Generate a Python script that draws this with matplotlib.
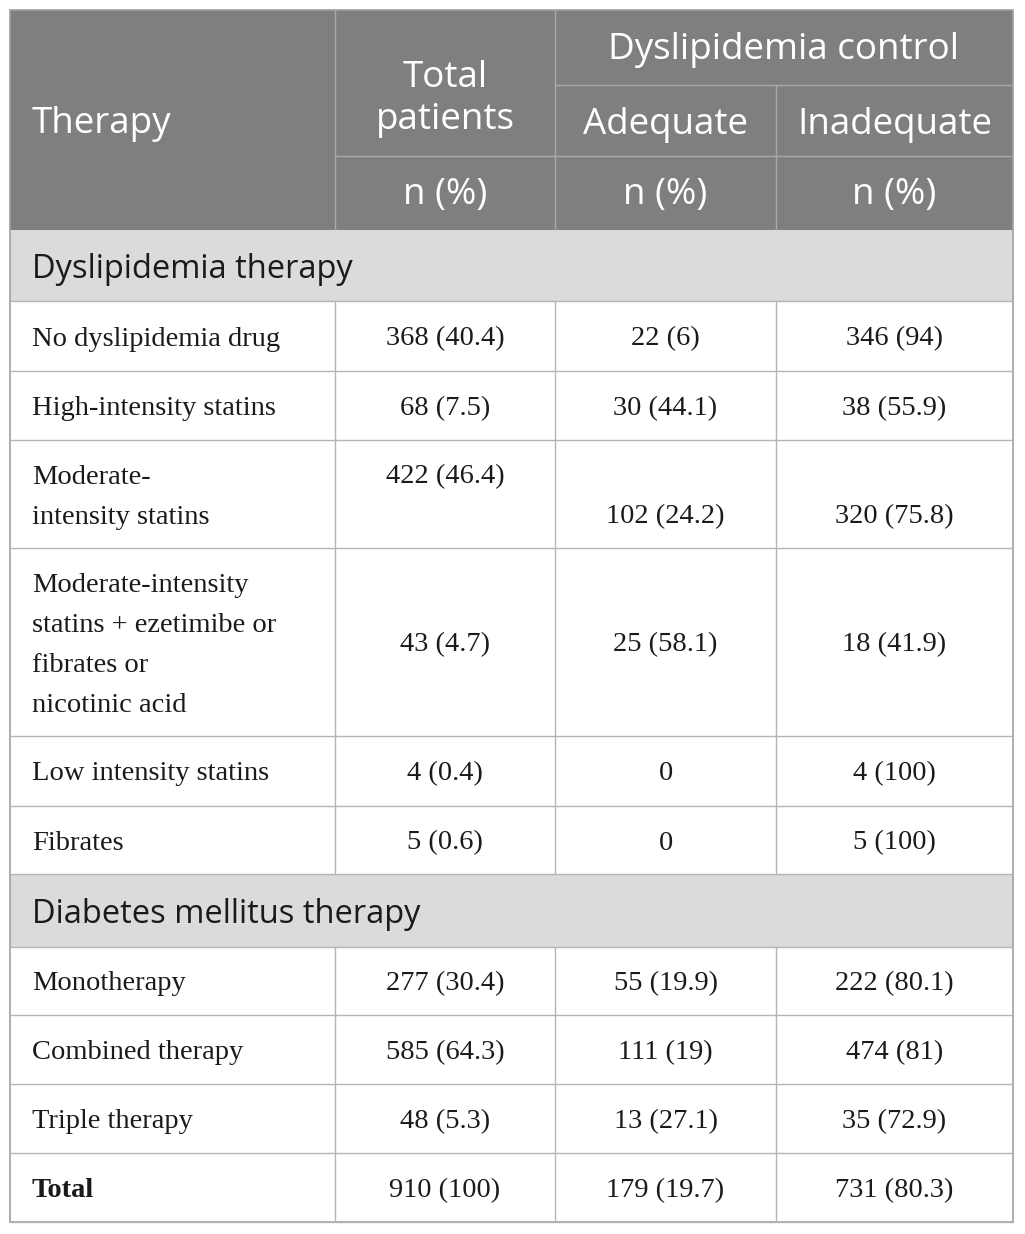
import matplotlib
matplotlib.use("Agg")
import matplotlib.pyplot as plt
from matplotlib.patches import Rectangle

# ----------------------------------
# Table data
# ----------------------------------
SECTIONS = ["Dyslipidemia therapy", "Diabetes mellitus therapy"]

DYS_LABELS = [
    "No dyslipidemia drug",
    "High-intensity statins",
    "Moderate-\nintensity statins",
    "Moderate-intensity\nstatins + ezetimibe or\nfibrates or\nnicotinic acid",
    "Low intensity statins",
    "Fibrates",
]
DYS_TOTAL = ["368 (40.4)", "68 (7.5)", "422 (46.4)", "43 (4.7)", "4 (0.4)", "5 (0.6)"]
DYS_ADEQ = ["22 (6)", "30 (44.1)", "102 (24.2)", "25 (58.1)", "0", "0"]
DYS_INADEQ = ["346 (94)", "38 (55.9)", "320 (75.8)", "18 (41.9)", "4 (100)", "5 (100)"]

DM_LABELS = ["Monotherapy", "Combined therapy", "Triple therapy", "Total"]
DM_TOTAL = ["277 (30.4)", "585 (64.3)", "48 (5.3)", "910 (100)"]
DM_ADEQ = ["55 (19.9)", "111 (19)", "13 (27.1)", "179 (19.7)"]
DM_INADEQ = ["222 (80.1)", "474 (81)", "35 (72.9)", "731 (80.3)"]

# ----------------------------------
# Layout (pixel units, y grows downward)
# ----------------------------------
W, H = 1025, 1234
X0, X1, X2, X3, X4 = 10, 335, 555, 776, 1013
HEAD_TOP, HEAD_SPLIT, HEAD_N, HEAD_BOT = 10, 85, 156, 230
DYS_ROWS = [301, 371, 440, 548, 736, 806, 874]
DM_ROWS = [947, 1015, 1084, 1153, 1222]

HEAD_BG = "#7f7f7f"
SECT_BG = "#dcdbda"
LINE = "#b4b4b4"
HEAD_LINE = "#a9a9a9"
TXT = "#1a1a1a"

SANS = ["Open Sans", "DejaVu Sans"]
SERIF = ["Liberation Serif", "DejaVu Serif"]
HEAD_FS = 26.5
SECT_FS = 23.5
BODY_FS = 20.5
LINE_STEP = 40  # px between wrapped lines
DY = 3          # small downward nudge for serif text
HDY = 4         # same for header text

fig = plt.figure(figsize=(W / 100, H / 100), dpi=100)
ax = fig.add_axes([0, 0, 1, 1])
ax.set_xlim(0, W)
ax.set_ylim(H, 0)
ax.axis("off")

xc = [(X1 + X2) / 2, (X2 + X3) / 2, (X3 + X4) / 2]


def hline(y, x_a, x_b, color=LINE):
    ax.plot([x_a, x_b], [y, y], color=color, lw=1.0, solid_capstyle="butt")


def vline(x, y_a, y_b, color=LINE):
    ax.plot([x, x], [y_a, y_b], color=color, lw=1.0, solid_capstyle="butt")


# ----------------------------------
# Header
# ----------------------------------
ax.add_patch(Rectangle((X0, HEAD_TOP), X4 - X0, HEAD_BOT - HEAD_TOP,
                       facecolor=HEAD_BG, edgecolor="none"))
hline(HEAD_SPLIT, X2, X4, HEAD_LINE)
hline(HEAD_N, X1, X4, HEAD_LINE)
vline(X1, HEAD_TOP, HEAD_BOT, HEAD_LINE)
vline(X2, HEAD_TOP, HEAD_BOT, HEAD_LINE)
vline(X3, HEAD_SPLIT, HEAD_BOT, HEAD_LINE)

hkw = dict(color="white", fontsize=HEAD_FS, family=SANS, va="center")
ax.text(32, 120 + HDY, "Therapy", ha="left", **hkw)
ax.text(xc[0], 74 + HDY, "Total", ha="center", **hkw)
ax.text(xc[0], 116 + HDY, "patients", ha="center", **hkw)
ax.text((X2 + X4) / 2, 46 + HDY, "Dyslipidemia control", ha="center", **hkw)
ax.text(xc[1], 121 + HDY, "Adequate", ha="center", **hkw)
ax.text(xc[2], 121 + HDY, "Inadequate", ha="center", **hkw)
for x in xc:
    ax.text(x, 191 + HDY, "n (%)", ha="center", **hkw)


# ----------------------------------
# Body
# ----------------------------------
def section(y_top, y_bot, title):
    ax.add_patch(Rectangle((X0, y_top), X4 - X0, y_bot - y_top,
                           facecolor=SECT_BG, edgecolor="none"))
    ax.text(32, (y_top + y_bot) / 2 + 4, title, ha="left", va="center",
            color=TXT, fontsize=SECT_FS, family=SANS)
    hline(y_bot, X0, X4)


def block(bounds, labels, totals, adeq, inadeq, bold_last=False):
    for i, lab in enumerate(labels):
        top, bot = bounds[i], bounds[i + 1]
        mid = (top + bot) / 2 + DY
        lines = lab.split("\n")
        first = mid - (len(lines) - 1) * LINE_STEP / 2
        weight = "bold" if (bold_last and i == len(labels) - 1) else "normal"
        for k, ln in enumerate(lines):
            ax.text(32, first + k * LINE_STEP, ln, ha="left", va="center",
                    color=TXT, fontsize=BODY_FS, family=SERIF, weight=weight)
        # two-line label with split values: total on first line, rest on second
        if len(lines) == 2:
            y_vals = [first, first + LINE_STEP, first + LINE_STEP]
        else:
            y_vals = [mid, mid, mid]
        for x, y, v in zip(xc, y_vals, (totals[i], adeq[i], inadeq[i])):
            ax.text(x, y, v, ha="center", va="center", color=TXT,
                    fontsize=BODY_FS, family=SERIF)
        hline(bot, X0, X4)
        for x in (X1, X2, X3):
            vline(x, top, bot)


section(HEAD_BOT, DYS_ROWS[0], SECTIONS[0])
block(DYS_ROWS, DYS_LABELS, DYS_TOTAL, DYS_ADEQ, DYS_INADEQ)
section(DYS_ROWS[-1], DM_ROWS[0], SECTIONS[1])
block(DM_ROWS, DM_LABELS, DM_TOTAL, DM_ADEQ, DM_INADEQ, bold_last=True)

# outer border
ax.add_patch(Rectangle((X0, HEAD_TOP), X4 - X0, DM_ROWS[-1] - HEAD_TOP,
                       facecolor="none", edgecolor="#a0a0a0", lw=1.2))

fig.savefig("out.png", dpi=100, facecolor="white")
